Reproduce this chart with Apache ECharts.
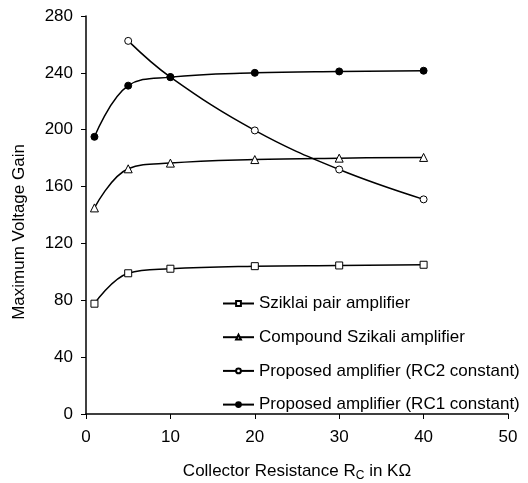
<html>
<head>
    <meta charset="utf-8">
    <script src="https://cdn.jsdelivr.net/npm/echarts@6/dist/echarts.min.js"></script>
</head>
<body style="margin:0">
    <div id="main" style="width:528px; height:483px"></div>
<script type="text/javascript">
    var resistance = [1, 5, 10, 20, 30, 40];
    var sziklai = [77.6, 99, 102.2, 104, 104.5, 105];
    var compound = [145, 172.5, 176.5, 179, 180, 180.5];
    var rc2Const = [null, 262.5, 237, 199.5, 172, 151];
    var rc1Const = [195, 231, 237, 240, 241, 241.5];
    var names = ['Sziklai pair amplifier', 'Compound Szikali amplifier',
        'Proposed amplifier (RC2 constant)', 'Proposed amplifier (RC1 constant)'];

    function pairs(ys) {
        var res = [];
        for (var i = 0; i < resistance.length; i++) {
            if (ys[i] != null) res.push([resistance[i], ys[i]]);
        }
        return res;
    }

    function line(name, ys, symbol, filled) {
        return {
            name: name,
            type: 'line',
            smooth: 0.4,
            data: pairs(ys),
            symbol: symbol,
            symbolSize: symbol == 'triangle' ? 8 : 7,
            showAllSymbol: true,
            lineStyle: { color: '#000', width: 1.5 },
            itemStyle: { color: filled ? '#000' : '#fff', borderColor: '#000', borderWidth: 1 },
            emphasis: { disabled: true }
        };
    }

    var myChart = echarts.init(document.getElementById('main'));
    var option = {
        animation: false,
        textStyle: { fontFamily: 'Liberation Sans, Arial, sans-serif', color: '#000' },
        grid: { left: 86, top: 16, right: 20, bottom: 69, outerBoundsMode: 'none', containLabel: false },
        legend: {
            orient: 'vertical',
            left: 222,
            top: 295,
            padding: 0,
            itemGap: 16.7,
            itemWidth: 31,
            itemHeight: 6,
            textStyle: { fontSize: 17, color: '#000' },
            data: names
        },
        xAxis: {
            type: 'value',
            min: 0, max: 50, interval: 10,
            name: '{a|Collector Resistance R}{s|C}{a| in KΩ}',
            nameLocation: 'middle',
            nameGap: 47,
            nameTextStyle: {
                rich: {
                    a: { fontSize: 17, color: '#000' },
                    s: { fontSize: 12, color: '#000', padding: [9, 0, 0, 0] }
                }
            },
            axisLine: { lineStyle: { color: '#000', width: 1.5 } },
            axisTick: { lineStyle: { color: '#000' }, length: 5 },
            axisLabel: { fontSize: 17, color: '#000', margin: 15 },
            splitLine: { show: false }
        },
        yAxis: {
            type: 'value',
            min: 0, max: 280, interval: 40,
            name: 'Maximum Voltage Gain',
            nameLocation: 'middle',
            nameGap: 58,
            nameTextStyle: { fontSize: 17, color: '#000', padding: [0, 34, 0, 0] },
            axisLine: { show: true, lineStyle: { color: '#000', width: 1.5 } },
            axisTick: { show: true, lineStyle: { color: '#000' }, length: 5 },
            axisLabel: { fontSize: 17, color: '#000', margin: 13 },
            splitLine: { show: false }
        },
        series: [
            line(names[0], sziklai, 'rect', false),
            line(names[1], compound, 'triangle', false),
            line(names[2], rc2Const, 'circle', false),
            line(names[3], rc1Const, 'circle', true)
        ]
    };
    myChart.setOption(option);
</script>
</body>
</html>
